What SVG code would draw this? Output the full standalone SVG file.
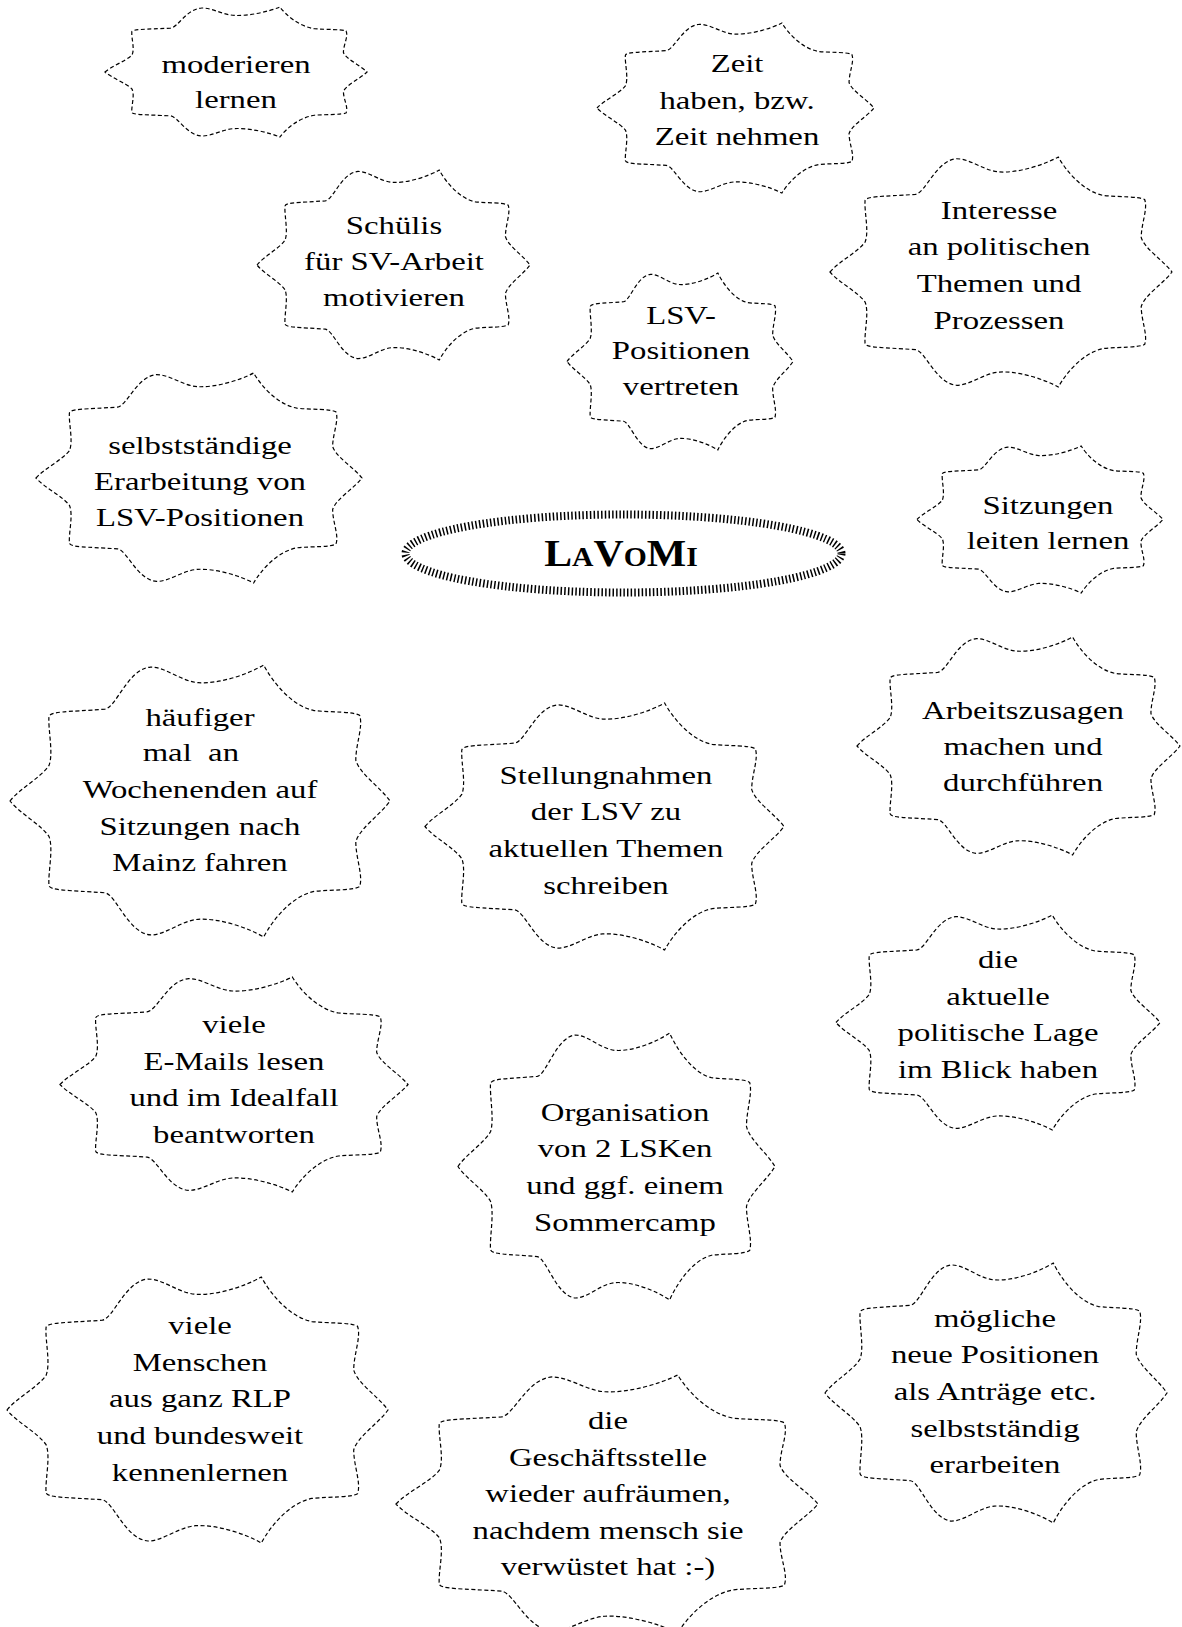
<svg xmlns="http://www.w3.org/2000/svg" width="1182" height="1627" viewBox="0 0 1182 1627">
<style>
  text { font-family: "Liberation Serif", "Times New Roman", serif; font-size: 25px; fill: #000; text-anchor: middle; }
  .title { font-size: 37px; font-weight: bold; font-variant: small-caps; }
  .hub { fill: none; stroke: #000; stroke-width: 8; stroke-dasharray: 1.5 2.2; }
</style>
<defs>
  <path id="cloud" fill="none" stroke="#000" stroke-width="1.2" stroke-dasharray="4 2.5" vector-effect="non-scaling-stroke"
    d="M -100,0 C -95,-9 -84,-17 -79.5,-26 C -77,-35 -80,-52 -79.5,-62 C -79,-66 -70,-65.5 -50,-67.5 C -44,-69 -38,-97 -26,-98.5 C -18,-98.5 -10,-88 -1,-87 C 10,-86 25,-93 33.5,-100 C 38,-88 48,-70 60,-66.5 C 70,-65 80,-66 84,-63 C 86,-55 82,-42 82,-30 C 84,-20 95,-10 100,0 C 95,10 84,20 82,30 C 82,42 86,55 84,63 C 80,66 70,65 60,66.5 C 48,70 38,88 33.5,100 C 25,93 10,86 -1,87 C -10,88 -18,98.5 -26,98.5 C -38,97 -44,69 -50,67.5 C -70,65.5 -79,66 -79.5,62 C -80,52 -77,35 -79.5,26 C -84,17 -95,9 -100,0 Z"/>
</defs>
<rect width="1182" height="1627" fill="#fff"/>
<g id="connectors"/>

<g id="n-lavomi">
  <ellipse class="hub" cx="623.5" cy="553.5" rx="218" ry="39"/>
  <g transform="translate(621 0) scale(1.13 1)"><text class="title" y="566">LaVoMi</text></g>
</g>

<g id="n-moderieren">
  <use href="#cloud" transform="translate(236 72) scale(1.31 0.65)"/>
  <g transform="translate(236 0) scale(1.31 1)"><text y="73">moderieren</text><text y="108">lernen</text></g>
</g>

<g id="n-zeit">
  <use href="#cloud" transform="translate(735.5 108) scale(1.385 0.85)"/>
  <g transform="translate(737 0) scale(1.31 1)"><text y="72">Zeit</text><text y="109">haben, bzw.</text><text y="145">Zeit nehmen</text></g>
</g>

<g id="n-schuelis">
  <use href="#cloud" transform="translate(393.5 265) scale(1.365 0.95)"/>
  <g transform="translate(394 0) scale(1.31 1)"><text y="234">Schülis</text><text y="270">für SV-Arbeit</text><text y="306">motivieren</text></g>
</g>

<g id="n-interesse">
  <use href="#cloud" transform="translate(1001 272) scale(1.71 1.15)"/>
  <g transform="translate(999 0) scale(1.31 1)"><text y="219">Interesse</text><text y="255">an politischen</text><text y="292">Themen und</text><text y="329">Prozessen</text></g>
</g>

<g id="n-lsv">
  <use href="#cloud" transform="translate(680 361.5) scale(1.13 0.885)"/>
  <g transform="translate(681 0) scale(1.31 1)"><text y="324">LSV-</text><text y="359">Positionen</text><text y="395">vertreten</text></g>
</g>

<g id="n-selbststaendige">
  <use href="#cloud" transform="translate(199 478) scale(1.63 1.05)"/>
  <g transform="translate(200 0) scale(1.31 1)"><text y="454">selbstständige</text><text y="490">Erarbeitung von</text><text y="526">LSV-Positionen</text></g>
</g>

<g id="n-sitzungen">
  <use href="#cloud" transform="translate(1040 519.5) scale(1.23 0.735)"/>
  <g transform="translate(1048 0) scale(1.31 1)"><text y="514">Sitzungen</text><text y="549">leiten lernen</text></g>
</g>

<g id="n-haeufiger">
  <use href="#cloud" transform="translate(200 801) scale(1.9 1.36)"/>
  <g transform="translate(200 0) scale(1.31 1)"><text y="726">häufiger</text><text y="761" x="-7" xml:space="preserve">mal  an</text><text y="798">Wochenenden auf</text><text y="835">Sitzungen nach</text><text y="871">Mainz fahren</text></g>
</g>

<g id="n-stellungnahmen">
  <use href="#cloud" transform="translate(604.5 826.5) scale(1.795 1.235)"/>
  <g transform="translate(606 0) scale(1.31 1)"><text y="784">Stellungnahmen</text><text y="820">der LSV zu</text><text y="857">aktuellen Themen</text><text y="894">schreiben</text></g>
</g>

<g id="n-arbeitszusagen">
  <use href="#cloud" transform="translate(1018.5 746) scale(1.615 1.09)"/>
  <g transform="translate(1023 0) scale(1.31 1)"><text y="719">Arbeitszusagen</text><text y="755">machen und</text><text y="791">durchführen</text></g>
</g>

<g id="n-lage">
  <use href="#cloud" transform="translate(998 1022.5) scale(1.62 1.075)"/>
  <g transform="translate(998 0) scale(1.31 1)"><text y="968">die</text><text y="1005">aktuelle</text><text y="1041">politische Lage</text><text y="1078">im Blick haben</text></g>
</g>

<g id="n-emails">
  <use href="#cloud" transform="translate(234 1084.5) scale(1.74 1.075)"/>
  <g transform="translate(234 0) scale(1.31 1)"><text y="1033">viele</text><text y="1070">E-Mails lesen</text><text y="1106">und im Idealfall</text><text y="1143">beantworten</text></g>
</g>

<g id="n-organisation">
  <use href="#cloud" transform="translate(616.5 1166.5) scale(1.585 1.335)"/>
  <g transform="translate(625 0) scale(1.31 1)"><text y="1121">Organisation</text><text y="1157">von 2 LSKen</text><text y="1194">und ggf. einem</text><text y="1231">Sommercamp</text></g>
</g>

<g id="n-menschen">
  <use href="#cloud" transform="translate(197.5 1410) scale(1.905 1.33)"/>
  <g transform="translate(200 0) scale(1.31 1)"><text y="1334">viele</text><text y="1371">Menschen</text><text y="1407">aus ganz RLP</text><text y="1444">und bundesweit</text><text y="1481">kennenlernen</text></g>
</g>

<g id="n-geschaeftsstelle">
  <use href="#cloud" transform="translate(607 1504) scale(2.11 1.29)"/>
  <g transform="translate(608 0) scale(1.31 1)"><text y="1429">die</text><text y="1466">Geschäftsstelle</text><text y="1502">wieder aufräumen,</text><text y="1539">nachdem mensch sie</text><text y="1575">verwüstet hat :-)</text></g>
</g>

<g id="n-moegliche">
  <use href="#cloud" transform="translate(996 1393) scale(1.71 1.3)"/>
  <g transform="translate(995 0) scale(1.31 1)"><text y="1327">mögliche</text><text y="1363">neue Positionen</text><text y="1400">als Anträge etc.</text><text y="1437">selbstständig</text><text y="1473">erarbeiten</text></g>
</g>
</svg>
